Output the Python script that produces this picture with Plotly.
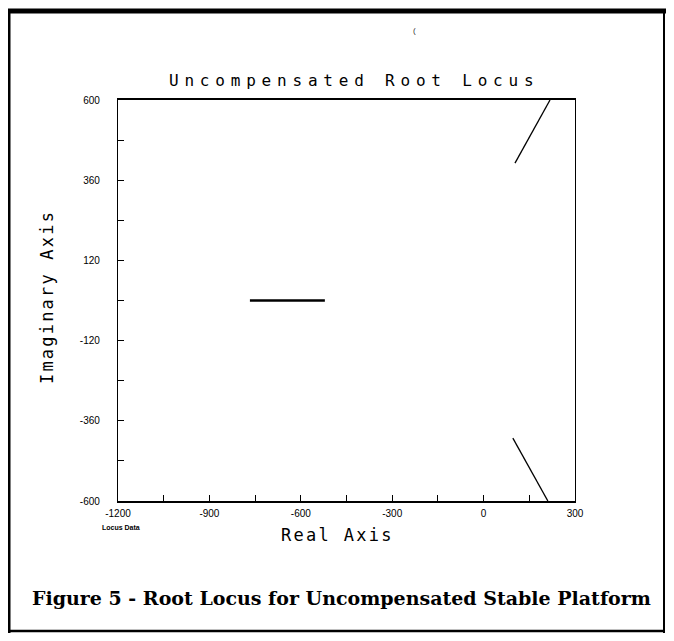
import plotly.graph_objects as go

# ---- data ----
real_branch_x = [-767, -521]
real_branch_y = [0, 0]
upper_branch_x = [103, 218]
upper_branch_y = [411, 600]
lower_branch_x = [96, 211]
lower_branch_y = [-412, -600]

x_range = [-1200, 300]
y_range = [-600, 600]
x_tick_vals = [-1200, -900, -600, -300, 0, 300]
x_tick_text = ["-1200", "-900", "-600", "-300", "0", "300"]
y_tick_vals = [600, 360, 120, -120, -360, -600]
y_tick_text = ["600", "360", "120", "-120", "-360", "-600"]

title_text = "Uncompensated Root Locus"
x_title = "Real Axis"
y_title = "Imaginary Axis"
note_text = "Locus Data"
caption_text = "Figure 5 - Root Locus for Uncompensated Stable Platform"

# ---- layout geometry (page pixels; the page body adds an 8px margin) ----
OFF = 8
W, H = 674 - 2 * OFF, 641 - 2 * OFF
L, R, T, B = 118 - OFF, 575 - OFF, 100 - OFF, 501 - OFF
PW, PH = R - L, B - T


def px(x):
    return (x - OFF - L) / PW


def py(y):
    return (B - (y - OFF)) / PH


fig = go.Figure()
fig.add_trace(go.Scatter(x=real_branch_x, y=real_branch_y, mode="lines",
                         line=dict(color="black", width=2.6), showlegend=False))
fig.add_trace(go.Scatter(x=upper_branch_x, y=upper_branch_y, mode="lines",
                         line=dict(color="black", width=1.3), showlegend=False))
fig.add_trace(go.Scatter(x=lower_branch_x, y=lower_branch_y, mode="lines",
                         line=dict(color="black", width=1.3), showlegend=False))

tick_font = dict(family="Liberation Sans", size=10, color="black")
mono = "DejaVu Sans Mono"

fig.update_xaxes(range=x_range, showgrid=False, zeroline=False,
                 showline=True, linecolor="black", linewidth=1.6, mirror=True,
                 tickmode="array", tickvals=x_tick_vals, ticktext=x_tick_text,
                 ticks="inside", ticklen=6, tickwidth=1, tickcolor="black",
                 minor=dict(tickmode="linear", tick0=-1200, dtick=150,
                            ticks="inside", ticklen=6, tickwidth=1, tickcolor="black"),
                 tickfont=tick_font, ticklabelstandoff=2)
fig.update_yaxes(range=y_range, showgrid=False, zeroline=False,
                 showline=True, linecolor="black", linewidth=1.3, mirror=True,
                 tickmode="array", tickvals=y_tick_vals, ticktext=y_tick_text,
                 ticks="inside", ticklen=6, tickwidth=1, tickcolor="black",
                 minor=dict(tickmode="linear", tick0=-600, dtick=120,
                            ticks="inside", ticklen=6, tickwidth=1, tickcolor="black"),
                 tickfont=tick_font, ticklabelstandoff=15)

annotations = [
    dict(text=f'<span style="letter-spacing:5.8px">{title_text}</span>',
         x=px(354), y=py(81), xref="paper", yref="paper", showarrow=False,
         xanchor="center", yanchor="middle",
         font=dict(family=mono, size=16, color="black")),
    dict(text=f'<span style="letter-spacing:2.3px">{x_title}</span>',
         x=px(337), y=py(535), xref="paper", yref="paper", showarrow=False,
         xanchor="center", yanchor="middle",
         font=dict(family=mono, size=17, color="black")),
    dict(text=f'<span style="letter-spacing:2.2px">{y_title}</span>',
         x=px(47), y=py(297), xref="paper", yref="paper", showarrow=False,
         xanchor="center", yanchor="middle", textangle=-90,
         font=dict(family=mono, size=17, color="black")),
    dict(text=f"<b>{note_text}</b>",
         x=px(100), y=py(527), xref="paper", yref="paper", showarrow=False,
         xanchor="left", yanchor="middle",
         font=dict(family="Liberation Sans", size=7, color="black")),
    dict(text=f"<b>{caption_text}</b>",
         x=px(341), y=py(598), xref="paper", yref="paper", showarrow=False,
         xanchor="center", yanchor="middle",
         font=dict(family="DejaVu Serif", size=19, color="black")),
    dict(text="(",
         x=px(414), y=py(30), xref="paper", yref="paper", showarrow=False,
         xanchor="center", yanchor="middle",
         font=dict(family="Liberation Sans", size=8, color="#333")),
]

shapes = [
    dict(type="line", xref="paper", yref="paper", x0=px(5), x1=px(672), y0=py(11), y1=py(11),
         line=dict(color="black", width=5)),
    dict(type="line", xref="paper", yref="paper", x0=px(8), x1=px(8), y0=py(9), y1=py(633),
         line=dict(color="black", width=5)),
    dict(type="line", xref="paper", yref="paper", x0=px(664), x1=px(664), y0=py(9), y1=py(633),
         line=dict(color="black", width=2)),
    dict(type="line", xref="paper", yref="paper", x0=px(6), x1=px(665), y0=py(631), y1=py(631),
         line=dict(color="black", width=2.5)),
]

fig.update_layout(width=W, height=H, autosize=False,
                  margin=dict(l=L, r=W - R, t=T, b=H - B, pad=0),
                  paper_bgcolor="white", plot_bgcolor="white",
                  annotations=annotations, shapes=shapes, showlegend=False)

fig.write_html("out.html")
